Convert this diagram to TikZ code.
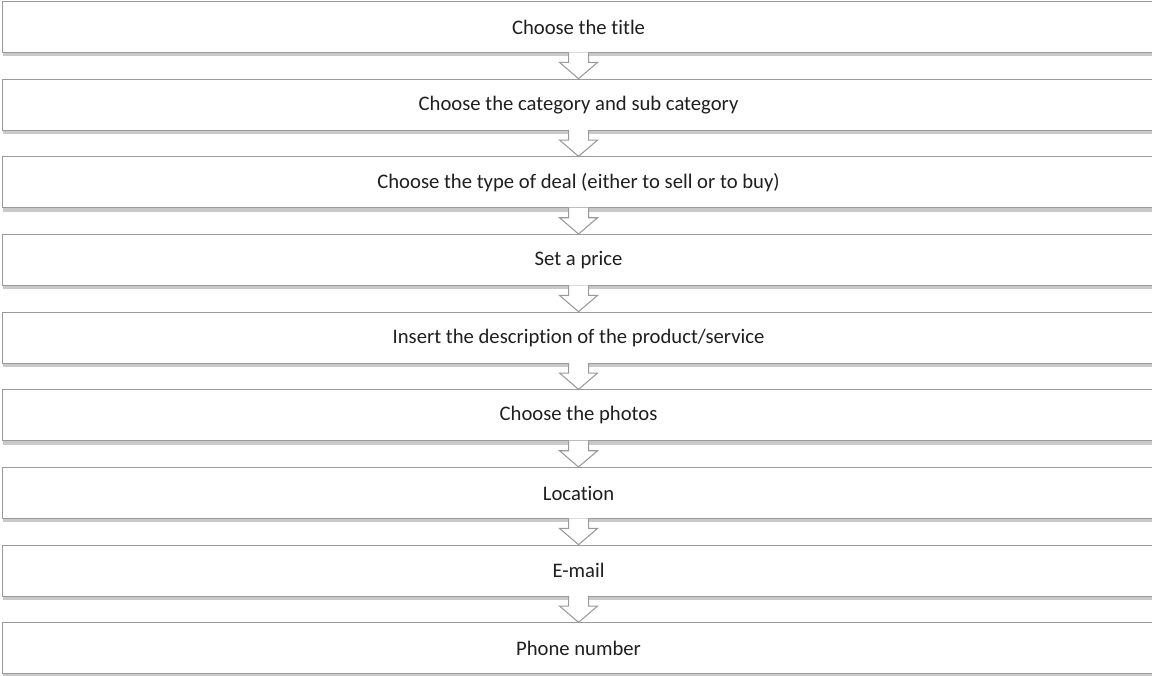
\documentclass[tikz,border=0pt]{standalone}
\usepackage{fontspec}
\setmainfont{Carlito}[Ligatures={NoCommon}]
\usetikzlibrary{positioning, calc, shadows}
\definecolor{edge}{HTML}{9A9A9A}
\definecolor{ink}{HTML}{1F1F1F}

\begin{document}
\begin{tikzpicture}[
    node distance = 19.2pt,
    stepbox/.style = {draw=edge, line width=0.8pt, fill=white, font=\fontsize{15.5}{18}\selectfont, text=ink,
                      inner sep=0pt, minimum width=864pt, minimum height=38.25pt,
                      drop shadow={shadow xshift=0pt, shadow yshift=-2.8pt, opacity=0.3, fill=black!70}},
    blockarrow/.style = {draw=edge, line width=0.8pt, fill=white, line join=miter},
]

% --------------------------------------------- frame ---------------------------------------------
\useasboundingbox (0,0.75pt) rectangle (864pt,-505.5pt);

% --------------------------------------------- steps ---------------------------------------------
\node[stepbox, anchor=north west] (title) at (1.5pt,0) {Choose the title};
\node[stepbox, below=of title]  (cat)    {Choose the category and sub category};
\node[stepbox, below=of cat]    (deal)   {Choose the type of deal (either to sell or to buy)};
\node[stepbox, below=of deal]   (price)  {Set a price};
\node[stepbox, below=of price]  (desc)   {Insert the description of the product/service};
\node[stepbox, below=of desc]   (photos) {Choose the photos};
\node[stepbox, below=of photos] (loc)    {Location};
\node[stepbox, below=of loc]    (mail)   {E-mail};
\node[stepbox, below=of mail]   (phone)  {Phone number};

% --------------------------------------------- arrows --------------------------------------------
\foreach \a/\b in {title/cat, cat/deal, deal/price, price/desc, desc/photos,
                   photos/loc, loc/mail, mail/phone} {
    \draw[blockarrow]
        ($(\a.south)+(-7.5pt,0.6pt)$) -- ($(\a.south)+(-7.5pt,-7pt)$)
        -- ($(\a.south)+(-14.25pt,-7pt)$) -- (\b.north)
        -- ($(\a.south)+(14.25pt,-7pt)$) -- ($(\a.south)+(7.5pt,-7pt)$)
        -- ($(\a.south)+(7.5pt,0.6pt)$);
}

\end{tikzpicture}
\end{document}
